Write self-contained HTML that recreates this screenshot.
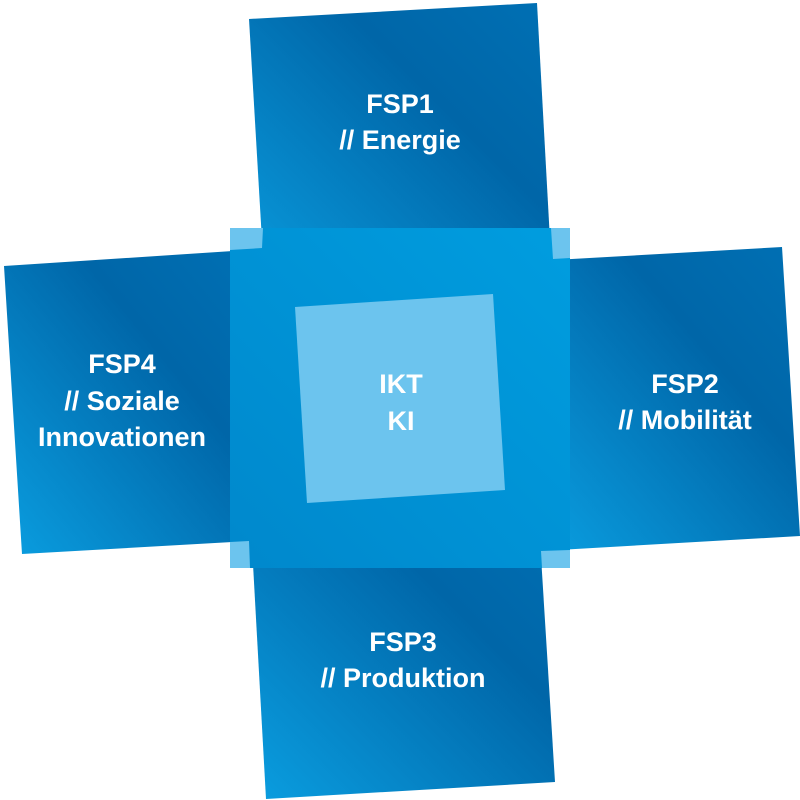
<!DOCTYPE html>
<html><head><meta charset="utf-8"><style>
html,body{margin:0;padding:0;background:#fff;}
svg{display:block;}
text{font-family:"Liberation Sans",Arial,Helvetica,sans-serif;font-weight:bold;fill:#fff;font-size:27px;text-anchor:middle;}
</style></head><body>
<svg width="800" height="800" viewBox="0 0 800 800">
<defs>
<linearGradient id="g" x1="0" y1="1" x2="1" y2="0">
<stop offset="0" stop-color="#0a9ee0"/>
<stop offset="0.65" stop-color="#0066a8"/>
<stop offset="1" stop-color="#0070b4"/>
</linearGradient>
<linearGradient id="m" x1="0" y1="1" x2="1" y2="0">
<stop offset="0" stop-color="#0088cc"/>
<stop offset="1" stop-color="#009ddf"/>
</linearGradient>
</defs>
<g fill="url(#g)">
<polygon points="249,19 537,3 553,295 266,309"/>
<polygon points="554,260 782,247 800,536 541,551"/>
<polygon points="250,510 537,492 555,782 266,799"/>
<polygon points="4,266 233,251 250,541 22,554"/>
</g>
<rect x="230" y="228" width="340" height="340" fill="#6cc4ee"/>
<polygon fill="url(#m)" points="263,228 551,228 553,259 570,258 570,550 541,551 542,568 250,568 249,541 230,542 230,250 262,248"/>
<polygon points="295,307 493,294 505,490 307,503" fill="#6cc4ee"/>
<g font-family="Liberation Sans, Arial, sans-serif" font-weight="bold" font-size="27">
<text x="400" y="113">FSP1</text>
<text x="400" y="149">// Energie</text>
<text x="685" y="393">FSP2</text>
<text x="685" y="429">// Mobilität</text>
<text x="403" y="651">FSP3</text>
<text x="403" y="687">// Produktion</text>
<text x="122" y="373">FSP4</text>
<text x="122" y="410">// Soziale</text>
<text x="122" y="446">Innovationen</text>
<text x="401" y="393">IKT</text>
<text x="401" y="430">KI</text>
</g>
</svg>
</body></html>
